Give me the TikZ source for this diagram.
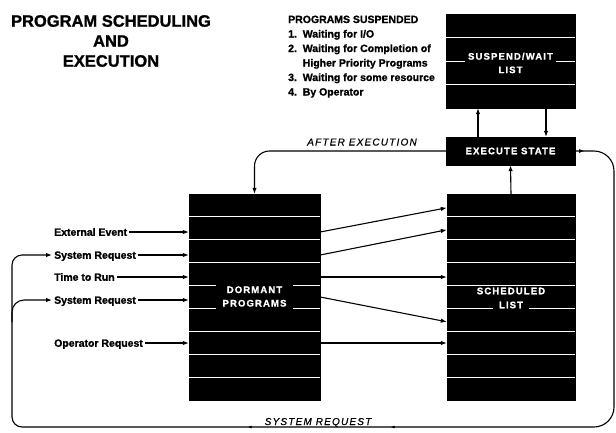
\documentclass[tikz,border=0pt]{standalone}
\usepackage{fontspec}
\setmainfont{Liberation Sans}[BoldFeatures={FakeBold=1.2}]
\newfontfamily\spacedfont{Liberation Sans}[LetterSpace=12, BoldFeatures={FakeBold=1.2}, ItalicFeatures={FakeBold=0.6}]
\usetikzlibrary{calc,arrows.meta,decorations.markings}

\begin{document}
\begin{tikzpicture}[x=1pt, y=1pt,
        >={Latex[length=6pt,width=4.5pt]},
        listbox/.style={draw=black, fill=black, inner sep=0pt},
        sepline/.style={white, line width=0.6pt},
        boxlabel/.style={fill=black, text=white, inner xsep=5pt, inner ysep=2pt, align=center, font=\spacedfont\fontsize{9.5}{13.5}\selectfont\bfseries},
        inlabel/.style={anchor=west, inner sep=2pt, text height=7.5pt, text depth=0pt, font=\fontsize{10.5}{12}\selectfont\bfseries},
        flowlabel/.style={anchor=base, inner sep=0pt, font=\spacedfont\fontsize{10}{12}\selectfont\itshape},
        flow/.style={line width=1.1pt}
    ]
    \useasboundingbox (0,0) rectangle (616,-432);

    % title and notes
    \node[align=center, font=\fontsize{16.5}{20}\selectfont\bfseries] (title) at (111,-41) {PROGRAM SCHEDULING\\AND\\EXECUTION};
    \node[anchor=base west, inner sep=0pt, font=\fontsize{10.5}{14.5}\selectfont\bfseries] (suspnote) at (288,-23)
        {\begin{tabular}[t]{@{}l@{\ \ }l@{}}
            \multicolumn{2}{@{}l@{}}{PROGRAMS SUSPENDED}\\
            1. & Waiting for I/O\\
            2. & Waiting for Completion of\\
               & Higher Priority Programs\\
            3. & Waiting for some resource\\
            4. & By Operator
        \end{tabular}};

    % lists
    \node[listbox, minimum width=131, minimum height=206] (dormant) at (254.5,-297) {};
    \node[listbox, minimum width=128, minimum height=206] (sched) at (511,-297) {};
    \node[listbox, minimum width=129, minimum height=94] (suspend) at (510.5,-61) {};
    \node[listbox, minimum width=129, minimum height=28] (exec) at (510.5,-151) {};
    \foreach \b/\n in {dormant/9, sched/9, suspend/4} {
        \pgfmathtruncatemacro\m{\n-1}
        \foreach \i in {1,...,\m}
            \draw[sepline] ($(\b.north west)!\i/\n!(\b.south west)$) -- ($(\b.north east)!\i/\n!(\b.south east)$);
    }
    \node[boxlabel, inner xsep=7pt] (dormlab) at ($(dormant)+(0,0.5)$) {DORMANT\\PROGRAMS};
    \node[boxlabel, inner xsep=6pt] (scheda) at ($(sched)+(0,6)$) {SCHEDULED};
    \node[boxlabel, inner xsep=6pt] (schedb) at ($(sched)+(0,-8)$) {LIST};
    \node[boxlabel, inner xsep=3pt] (susplab) at ($(suspend)+(0,-2)$) {SUSPEND/WAIT\\LIST};
    \node[boxlabel] (execlab) at (exec) {EXECUTE STATE};

    % inputs
    \node[inlabel] (ext) at (52,-232) {External Event};
    \node[inlabel] (sysa) at (52,-255) {System Request};
    \node[inlabel] (time) at (52,-277) {Time to Run};
    \node[inlabel] (sysb) at (52,-300) {System Request};
    \node[inlabel] (oper) at (52,-343) {Operator Request};
    \foreach \n in {ext, sysa, time, sysb, oper}
        \draw[flow, ->] (\n.east) -- (\n.east -| dormant.west);

    % dormant to scheduled
    \draw[flow, ->] (dormant.east |- ext) -- ($(sched.north west)+(0,-14)$);
    \draw[flow, ->] (dormant.east |- sysa) -- ($(sched.north west)+(0,-36)$);
    \draw[flow, ->] (dormant.east |- time) -- (sched.west |- time);
    \draw[flow, ->] (dormant.east) -- ($(sched.north west)+(0,-128)$);
    \draw[flow, ->] (dormant.east |- oper) -- (sched.west |- oper);

    % execute state
    \draw[flow, ->] (sched.north) -- (exec.south);
    \draw[flow, ->] ($(exec.north)+(-32.5,0)$) -- ($(suspend.south)+(-32.5,0)$);
    \draw[flow, ->] ($(suspend.south)+(35.5,0)$) -- ($(exec.north)+(35.5,0)$);
    \draw[flow, ->, rounded corners=15pt] (exec.west) -| (dormant.north);
    \node[flowlabel] (afterlab) at (362,-145.5) {AFTER EXECUTION};

    % system request loop
    \coordinate (loopr) at (614,-427);
    \coordinate (loopl) at (12,-427);
    \coordinate (branch) at (12,-322);
    \draw[flow, ->, postaction={decorate}, decoration={markings,
            mark=at position 9pt with {\arrow{Latex[length=5pt,width=4pt]}},
            mark=at position 521pt with {\arrow{Latex[length=4pt,width=3pt]}},
            mark=at position 664pt with {\arrow{Latex[length=4pt,width=3pt]}}}]
        (exec.east) [rounded corners=20pt] -- (exec.east -| loopr) -- (loopr)
        [rounded corners=10pt] -- (loopl) -- (loopl |- sysa.west) -- (sysa.west);
    \draw[flow, ->, rounded corners=12pt] (branch) |- (sysb.west);
    \node[flowlabel] (syslab) at (318,-425) {SYSTEM REQUEST};
\end{tikzpicture}
\end{document}
